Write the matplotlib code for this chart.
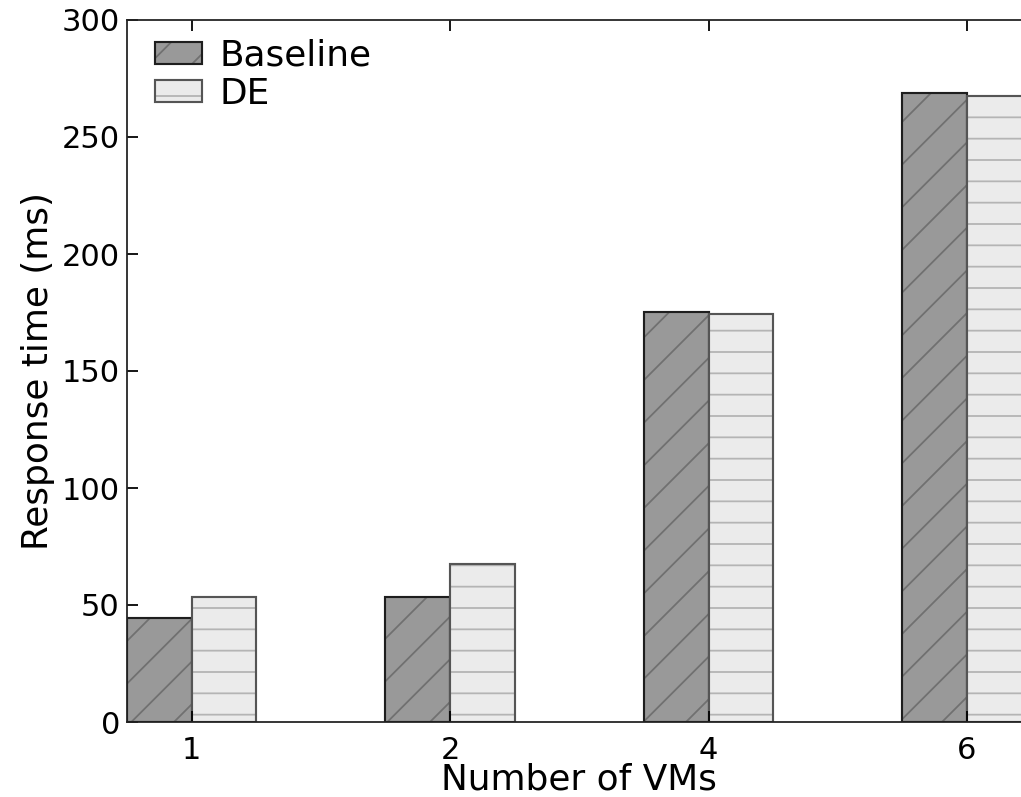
import matplotlib
matplotlib.use("Agg")
import matplotlib.pyplot as plt
import numpy as np
from matplotlib.legend_handler import HandlerTuple

categories = ["1", "2", "4", "6"]
baseline = [44.3, 53.3, 175.2, 268.8]
de = [53.3, 67.4, 174.4, 267.6]
series_names = ["Baseline", "DE"]
y_ticks = [0, 50, 100, 150, 200, 250, 300]

DPI = 128
fig = plt.figure(figsize=(1021 / DPI, 797 / DPI), dpi=DPI)
plt.rcParams['hatch.linewidth'] = 1.0
ax = fig.add_axes([127 / 1021, 75 / 797, (1031.6 - 127) / 1021, 702 / 797])

x = np.arange(len(categories))
w = 0.25

f1 = ax.bar(x - w, baseline, w, align='edge', color='#999999',
            edgecolor='#707070', hatch='/', linewidth=0)
e1 = ax.bar(x - w, baseline, w, align='edge', fill=False,
            edgecolor='#1e1e1e', linewidth=1.2)
f2 = ax.bar(x, de, w, align='edge', color='#ebebeb',
            edgecolor='#b4b4b4', hatch='-', linewidth=0)
e2 = ax.bar(x, de, w, align='edge', fill=False,
            edgecolor='#555555', linewidth=1.2)

ax.set_xlim(-0.25, 3.25)
ax.set_ylim(0, 300)
ax.set_xticks(x)
ax.set_xticklabels(categories)
ax.set_yticks(y_ticks)
ax.tick_params(direction='in', length=6, width=1, top=True, right=True,
               labelsize=17.2)
ax.tick_params(axis='x', pad=8)
ax.tick_params(axis='y', pad=4)
for s in ax.spines.values():
    s.set_linewidth(1.0)
    s.set_color('#222222')

ax.set_xlabel("Number of VMs", fontsize=20.2, labelpad=-1.5)
ax.set_ylabel("Response time (ms)", fontsize=20.2, labelpad=3.5)

leg = ax.legend([(f1[0], e1[0]), (f2[0], e2[0])], series_names,
                handler_map={tuple: HandlerTuple(ndivide=1, pad=0)},
                loc='upper left', bbox_to_anchor=(0.031, 0.973),
                frameon=False, fontsize=20.2,
                handlelength=1.3, handleheight=0.58, handletextpad=0.5,
                labelspacing=0.1, borderaxespad=0, borderpad=0)

fig.savefig("out.png", dpi=DPI)
